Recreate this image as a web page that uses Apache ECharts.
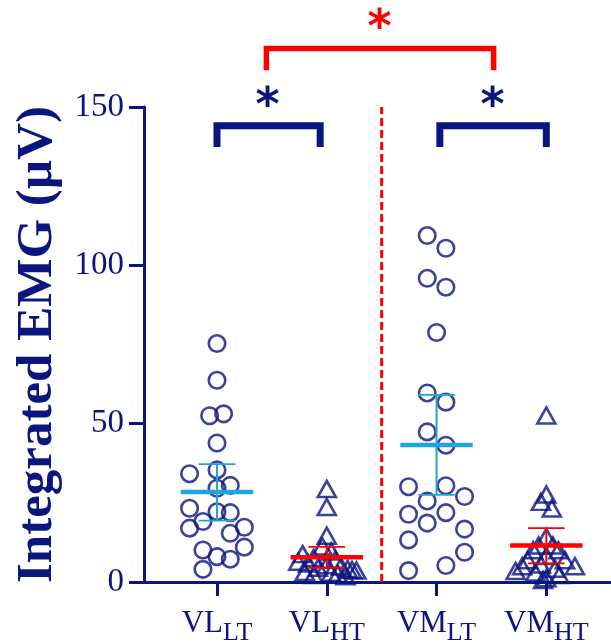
<!DOCTYPE html>
<html>
<head>
<meta charset="utf-8">
<script src="https://cdn.jsdelivr.net/npm/echarts@6/dist/echarts.min.js"></script>
<style>
  html, body { margin: 0; padding: 0; background: #fff; }
  #chart { width: 611px; height: 644px; }
</style>
</head>
<body>
<div id="chart"></div>
<script>
// group labels (main text + subscript)
const labelMain = ['VL', 'VL', 'VM', 'VM'];
const labelSub = ['LT', 'HT', 'LT', 'HT'];
const groupPos = [0, 1, 2, 3];

// Integrated EMG (µV) per subject
const vlLt = [75.3, 63.7, 52.5, 53.1, 43.9, 34.2, 35.4, 29.6, 30.5, 23.3, 22.2,
  21.9, 17.0, 19.1, 17.3, 15.4, 10.1, 11.0, 8.0, 7.2, 4.0];
const vlHt = [29.4, 23.7, 14.6, 11.2, 9.6, 8.8, 7.6, 7.0, 6.4, 5.8, 5.3,
  4.9, 4.5, 4.1, 3.8, 3.6, 3.2, 2.9, 2.5, 2.2, 1.8];
const vmLt = [109.4, 105.4, 95.9, 93.1, 78.8, 59.7, 56.8, 47.4, 43.2, 30.1, 30.4,
  27.0, 25.6, 21.4, 21.9, 18.6, 16.7, 13.3, 9.4, 5.2, 3.6];
const vmHt = [52.6, 27.6, 25.3, 23.2, 14.2, 11.5, 11.5, 10.0, 10.0, 8.2, 6.9,
  6.9, 5.5, 5.0, 5.0, 4.2, 3.5, 3.0, 2.2, 1.2, 0.6];

// horizontal scatter of the points around each group (as drawn)
const vlLtJitter = [0, 0, -0.067, 0.06, 0, -0.25, 0, 0, 0.121, -0.25, 0,
  0.121, -0.25, -0.128, 0.249, 0.121, -0.128, 0.249, 0, 0.121, -0.128];
const vlHtJitter = [0, 0, 0, -0.04, 0.04, -0.22, -0.12, 0.08, -0.26, -0.17, 0,
  0.13, -0.08, 0.19, 0.23, 0.27, -0.2, 0.04, 0.1, -0.12, 0.17];
const vmLtJitter = [-0.085, 0.085, -0.085, 0.085, 0, -0.085, 0.085, -0.085, 0.085, -0.255, 0.085,
  0.255, -0.085, -0.255, 0.085, -0.085, 0.255, -0.255, 0.255, 0.085, -0.255];
const vmHtJitter = [0, 0, -0.05, 0.05, 0, -0.07, 0.06, -0.12, 0.11, 0, -0.17,
  0.17, -0.05, -0.22, 0.26, 0.08, -0.28, -0.1, 0.12, 0, -0.03];

// mean with 95% CI
const groupMean = [28.4, 7.8, 43.3, 11.5];
const ciLow = [19.4, 4.5, 27.5, 5.9];
const ciHigh = [37.2, 11.1, 59.1, 17.0];

// significance brackets: [from, to], bar height, leg end, star position
const bracketFrom = [0, 2.03, 0.45];
const bracketTo = [0.94, 3.0, 2.52];
const bracketTop = [144.1, 144.1, 168.5];
const bracketLeg = [137.4, 137.4, 161.6];
const starX = [0.46, 2.51, 1.48];
const starY = [152.6, 152.6, 177.1];

const yTicks = [0, 50, 100, 150];

const NAVY = '#0b1580';
const LIGHTBLUE = '#1fa5de';
const RED = '#ff0000';
const meanColors = [LIGHTBLUE, RED, LIGHTBLUE, RED];
const bracketColors = [NAVY, NAVY, RED];
const bracketWidths = [7, 7, 5.5];
const starColors = [NAVY, NAVY, RED];

const toPoints = (vals, jit, g) => vals.map((v, i) => [g + jit[i], v]);

const chart = echarts.init(document.getElementById('chart'));

const markerStyle = { color: 'rgba(0,0,0,0)', borderColor: NAVY, borderWidth: 2.6 };

function renderMean(params, api) {
  const x = api.value(0), m = api.value(1), lo = api.value(2), hi = api.value(3);
  const c = meanColors[params.dataIndex];
  const seg = (x1, y1, x2, y2, w) => {
    const a = api.coord([x1, y1]), b = api.coord([x2, y2]);
    return { type: 'line', shape: { x1: a[0], y1: a[1], x2: b[0], y2: b[1] },
      style: { stroke: c, lineWidth: w } };
  };
  return { type: 'group', children: [
    seg(x, lo, x, hi, 2),
    seg(x - 0.167, hi, x + 0.167, hi, 1.8),
    seg(x - 0.167, lo, x + 0.167, lo, 1.8),
    seg(x - 0.33, m, x + 0.33, m, 4.5)
  ] };
}

function renderBracket(params, api) {
  const i = params.dataIndex;
  const x1 = api.value(0), x2 = api.value(1), top = api.value(2), leg = api.value(3);
  const pts = [api.coord([x1, leg]), api.coord([x1, top]), api.coord([x2, top]), api.coord([x2, leg])];
  return { type: 'polyline', shape: { points: pts },
    style: { stroke: bracketColors[i], lineWidth: bracketWidths[i], fill: null, lineJoin: 'miter', lineCap: 'butt' } };
}

function renderStar(params, api) {
  const i = params.dataIndex;
  const p = api.coord([api.value(0), api.value(1)]);
  return { type: 'text', x: p[0], y: p[1] + 9,
    style: { text: '*', fill: starColors[i], align: 'center', verticalAlign: 'middle',
      font: 'bold 46px "DejaVu Sans", sans-serif' } };
}

const option = {
  animation: false,
  backgroundColor: '#ffffff',
  grid: { left: 144, right: 1, top: 107, bottom: 62, containLabel: false, outerBoundsMode: 'none' },
  xAxis: {
    type: 'value',
    min: -0.665,
    max: 3.58,
    splitLine: { show: false },
    axisLine: { show: true, onZero: false, lineStyle: { color: NAVY, width: 3 } },
    axisTick: { show: true, customValues: groupPos, length: 14, lineStyle: { color: NAVY, width: 3 } },
    axisLabel: {
      customValues: groupPos,
      margin: 26,
      formatter: v => {
        const i = Math.round(v);
        return '{m|' + labelMain[i] + '}{s|' + labelSub[i] + '}';
      },
      rich: {
        m: { fontFamily: '"Liberation Serif", "Times New Roman", serif', fontSize: 31, color: NAVY, padding: [0, 0, 8, 0] },
        s: { fontFamily: '"Liberation Serif", "Times New Roman", serif', fontSize: 26, color: NAVY, padding: [12, 0, 0, 0] }
      }
    }
  },
  yAxis: {
    type: 'value',
    min: 0,
    max: 150,
    interval: 50,
    name: 'Integrated EMG (µV)',
    nameLocation: 'middle',
    nameGap: 80,
    nameTextStyle: { fontFamily: '"Liberation Serif", "Times New Roman", serif', fontWeight: 'bold', fontSize: 51, color: NAVY },
    splitLine: { show: false },
    axisLine: { show: true, onZero: false, lineStyle: { color: NAVY, width: 3 } },
    axisTick: { show: true, length: 15, lineStyle: { color: NAVY, width: 3 } },
    axisLabel: { margin: 20, fontFamily: '"Liberation Serif", "Times New Roman", serif', fontSize: 33, color: NAVY,
      customValues: yTicks }
  },
  series: [
    {
      type: 'line',
      data: [[1.5, 0], [1.5, 150]],
      symbol: 'none',
      silent: true,
      lineStyle: { color: RED, width: 3, type: [8, 4] }
    },
    { type: 'scatter', data: toPoints(vlLt, vlLtJitter, 0), symbol: 'circle', symbolSize: 16.5, itemStyle: markerStyle, silent: true },
    { type: 'scatter', data: toPoints(vlHt, vlHtJitter, 1), symbol: 'triangle', symbolSize: [18, 16], itemStyle: markerStyle, silent: true },
    { type: 'scatter', data: toPoints(vmLt, vmLtJitter, 2), symbol: 'circle', symbolSize: 16.5, itemStyle: markerStyle, silent: true },
    { type: 'scatter', data: toPoints(vmHt, vmHtJitter, 3), symbol: 'triangle', symbolSize: [18, 16], itemStyle: markerStyle, silent: true },
    {
      type: 'custom',
      renderItem: renderMean,
      data: groupPos.map((g, i) => [g, groupMean[i], ciLow[i], ciHigh[i]]),
      encode: { x: 0, y: 1 },
      silent: true,
      z: 5
    },
    {
      type: 'custom',
      renderItem: renderBracket,
      data: bracketFrom.map((f, i) => [f, bracketTo[i], bracketTop[i], bracketLeg[i]]),
      encode: { x: [0, 1], y: 2 },
      clip: false,
      silent: true,
      z: 6
    },
    {
      type: 'custom',
      renderItem: renderStar,
      data: starX.map((x, i) => [x, starY[i]]),
      encode: { x: 0, y: 1 },
      clip: false,
      silent: true,
      z: 6
    }
  ]
};

chart.setOption(option);
</script>
</body>
</html>
